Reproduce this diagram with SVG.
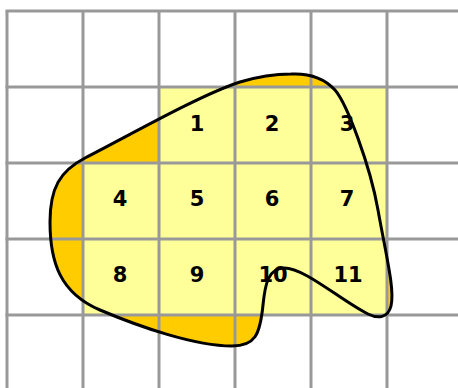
<svg xmlns="http://www.w3.org/2000/svg" width="458" height="388" viewBox="0 0 458 388">
<style>
.grid{stroke:#999999;stroke-width:3;fill:none}
.lbl{font-family:"DejaVu Sans",sans-serif;font-weight:bold;font-size:21px;fill:#000;text-anchor:middle}
</style>
<defs>
<path id="blob" d="M291,74 C312,73 326,80 335,90 C347,104 370,165 378,210 C386,255 395,290 391,306 C388,318 378,319 368,314 C340,300 305,268 284,268 C268,268 265,285 263,305 C260,335 255,346 232,346 C195,346 140,327 100,310 C60,293 50,262 50,222 C50,188 60,171 85,158 C130,135 200,95 240,82 C260,76 275,74 291,74 Z"/>
</defs>
<rect width="458" height="388" fill="#ffffff"/>
<use id="blob-fill" href="#blob" fill="#FFCC00"/>
<path id="cells" fill="#FFFF99" d="M159,87 H387 V315 H83 V163 H159 Z"/>
<g id="grid" class="grid">
<path d="M7,11 V388 M83,11 V388 M159,11 V388 M235,11 V388 M311,11 V388 M387,11 V388"/>
<path d="M5.5,11 H458 M5.5,87 H458 M5.5,163 H458 M5.5,239 H458 M5.5,315 H458"/>
</g>
<g id="labels">
<g id="c1"><text class="lbl" x="197" y="131">1</text></g>
<g id="c2"><text class="lbl" x="272" y="131">2</text></g>
<g id="c3"><text class="lbl" x="347" y="131">3</text></g>
<g id="c4"><text class="lbl" x="120" y="206">4</text></g>
<g id="c5"><text class="lbl" x="197" y="206">5</text></g>
<g id="c6"><text class="lbl" x="272" y="206">6</text></g>
<g id="c7"><text class="lbl" x="347" y="206">7</text></g>
<g id="c8"><text class="lbl" x="120" y="282">8</text></g>
<g id="c9"><text class="lbl" x="197" y="282">9</text></g>
<g id="c10"><text class="lbl" x="273" y="282">10</text></g>
<g id="c11"><text class="lbl" x="348" y="282">11</text></g>
</g>
<use id="blob-outline" href="#blob" fill="none" stroke="#000" stroke-width="3"/>
</svg>
